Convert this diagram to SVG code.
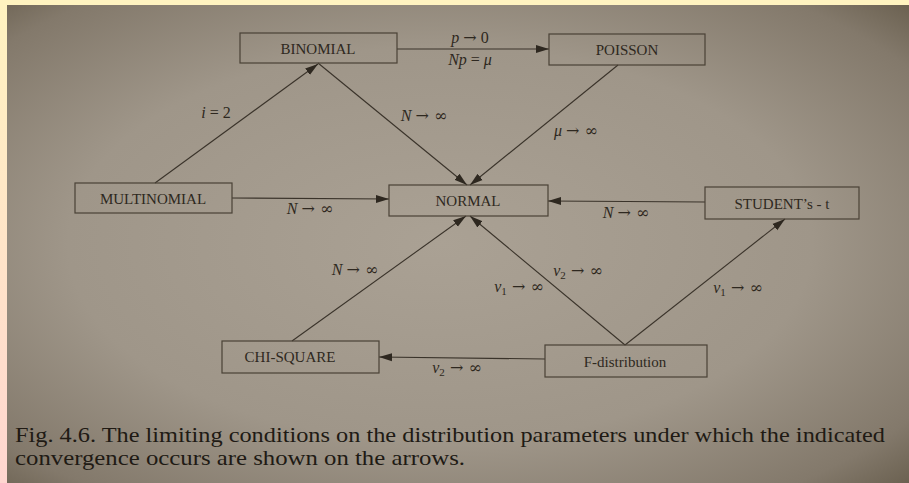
<svg xmlns="http://www.w3.org/2000/svg" width="909" height="483" viewBox="0 0 909 483">
<defs>
<linearGradient id="edge" x1="0" y1="0" x2="0" y2="1">
<stop offset="0" stop-color="#fff3c0"/>
<stop offset="1" stop-color="#ffd6d0"/>
</linearGradient>
<radialGradient id="paper" cx="0.48" cy="0.5" r="0.75">
<stop offset="0" stop-color="#aaa194"/>
<stop offset="0.55" stop-color="#9f9689"/>
<stop offset="0.85" stop-color="#83796b"/>
<stop offset="1" stop-color="#635948"/>
</radialGradient>
<marker id="ah" markerWidth="14" markerHeight="10" refX="13" refY="5" orient="auto" markerUnits="userSpaceOnUse">
<path d="M0,1 L13,5 L0,9 Z" fill="#2e2820"/>
</marker>
<style>
.box{fill:none;stroke:#4a4236;stroke-width:1.2}
.nt{font-family:"Liberation Serif",serif;font-size:15px;fill:#2e2820;text-anchor:middle}
.ln{fill:none;stroke:#3a332a;stroke-width:1.1;marker-end:url(#ah)}
.lb{font-family:"Liberation Serif",serif;font-style:italic;font-size:16px;fill:#2e2820;text-anchor:middle}
.ar{font-family:"DejaVu Serif",serif;font-style:normal;font-size:16px}
.cap{font-family:"Liberation Serif",serif;font-size:22px;fill:#201a14}
</style>
</defs>
<rect x="0" y="0" width="909" height="483" fill="url(#edge)"/>
<rect x="0" y="0" width="909" height="5" fill="#fff3c0"/>
<rect x="7" y="5" width="902" height="478" fill="url(#paper)"/>

<g id="connectors">
<path class="ln" d="M397,49 L549,49"/>
<path class="ln" d="M155,183 L318,64"/>
<path class="ln" d="M318,63 L467,185"/>
<path class="ln" d="M618,65 L470,185"/>
<path class="ln" d="M232,198 L389,199"/>
<path class="ln" d="M705,202 L548,201"/>
<path class="ln" d="M292,341 L466,216"/>
<path class="ln" d="M625,345 L470,216"/>
<path class="ln" d="M625,345 L785,219"/>
<path class="ln" d="M545,359 L379,357"/>
<text class="lb" x="470" y="43">p <tspan class="ar">→</tspan> <tspan font-style="normal">0</tspan></text>
<text class="lb" x="470" y="65">Np <tspan font-style="normal">=</tspan> μ</text>
<text class="lb" x="216" y="118">i <tspan font-style="normal">= 2</tspan></text>
<text class="lb" x="424" y="121">N <tspan class="ar">→ ∞</tspan></text>
<text class="lb" x="576" y="136">μ <tspan class="ar">→ ∞</tspan></text>
<text class="lb" x="310" y="214">N <tspan class="ar">→ ∞</tspan></text>
<text class="lb" x="626" y="218">N <tspan class="ar">→ ∞</tspan></text>
<text class="lb" x="355" y="275">N <tspan class="ar">→ ∞</tspan></text>
<text class="lb" x="578" y="276">ν<tspan font-size="11" font-style="normal" dy="3">2</tspan><tspan class="ar" dy="-3"> → ∞</tspan></text>
<text class="lb" x="519" y="292">ν<tspan font-size="11" font-style="normal" dy="3">1</tspan><tspan class="ar" dy="-3"> → ∞</tspan></text>
<text class="lb" x="738" y="293">ν<tspan font-size="11" font-style="normal" dy="3">1</tspan><tspan class="ar" dy="-3"> → ∞</tspan></text>
<text class="lb" x="457" y="373">ν<tspan font-size="11" font-style="normal" dy="3">2</tspan><tspan class="ar" dy="-3"> → ∞</tspan></text>
</g>

<g id="binomial"><rect class="box" x="240" y="33" width="157" height="30"/><text class="nt" x="318" y="54">BINOMIAL</text></g>
<g id="poisson"><rect class="box" x="549" y="34" width="156" height="31"/><text class="nt" x="627" y="55">POISSON</text></g>
<g id="multinomial"><rect class="box" x="75" y="183" width="157" height="30"/><text class="nt" x="153" y="204">MULTINOMIAL</text></g>
<g id="normal"><rect class="box" x="389" y="185" width="159" height="31"/><text class="nt" x="468" y="206">NORMAL</text></g>
<g id="student"><rect class="box" x="705" y="187" width="154" height="32"/><text class="nt" x="782" y="209">STUDENT’s - t</text></g>
<g id="chisquare"><rect class="box" x="222" y="341" width="157" height="32"/><text class="nt" x="290" y="362">CHI-SQUARE</text></g>
<g id="fdist"><rect class="box" x="545" y="345" width="162" height="32"/><text class="nt" x="625" y="367">F-distribution</text></g>

<g id="caption">
<text class="cap" x="15" y="442" textLength="870" lengthAdjust="spacingAndGlyphs">Fig. 4.6. The limiting conditions on the distribution parameters under which the indicated</text>
<text class="cap" x="15" y="465" textLength="450" lengthAdjust="spacingAndGlyphs">convergence occurs are shown on the arrows.</text>
</g>
</svg>
